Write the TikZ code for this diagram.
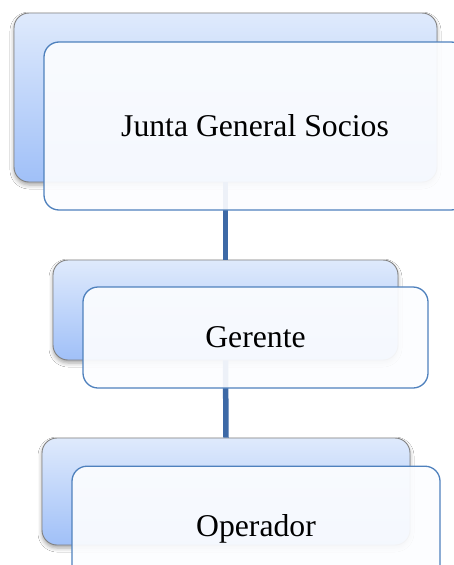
\documentclass[tikz,border=0pt]{standalone}
\usepackage{fontspec}
\setmainfont{Liberation Serif}
\usetikzlibrary{shadows.blur}
\definecolor{backtop}{HTML}{DFEAFC}
\definecolor{backbot}{HTML}{A0C0F8}
\definecolor{backline}{HTML}{808080}
\definecolor{frontline}{HTML}{4F81BD}
\definecolor{frontfill}{HTML}{FCFDFF}
\definecolor{connline}{HTML}{3D69A6}
\tikzset{
  backbox/.style={draw=backline, line width=0.9pt, rounded corners=15pt,
    top color=backtop, bottom color=backbot, inner sep=0pt,
    blur shadow={shadow xshift=0pt, shadow yshift=-3pt, shadow blur radius=4pt, shadow opacity=35}},
  frontbox/.style={draw=frontline, line width=1.3pt, rounded corners=15pt,
    fill=frontfill, fill opacity=0.92, text opacity=1, inner sep=0pt,
    font=\fontsize{31.7}{38}\selectfont, text height=21.5pt, text depth=0.6pt},
  conn/.style={draw=connline, line width=5.5pt}
}
\begin{document}
\begin{tikzpicture}[x=1pt,y=-1pt]
\useasboundingbox (0,0) rectangle (454,565);
\clip (0,0) rectangle (454,565);
\fill[white] (0,0) rectangle (454,565);
% back boxes
\node[backbox, minimum width=423pt, minimum height=169pt] (jb) at (225.5,97.5) {};
\node[backbox, minimum width=345pt, minimum height=100pt] (gb) at (225.5,310) {};
\node[backbox, minimum width=368pt, minimum height=107pt] (ob) at (226,491.5) {};
% connectors
\draw[conn] (jb.south) -- (gb.north);
\draw[conn] (gb.south) -- (ob.north);
% front boxes
\node[frontbox, minimum width=422pt, minimum height=168pt] (jf) at (255,126) {Junta General Socios};
\node[frontbox, minimum width=345pt, minimum height=101pt] (gf) at (255.5,337.5) {Gerente};
\node[frontbox, minimum width=368pt, minimum height=119pt] (of) at (256,525.7) {Operador};
\end{tikzpicture}
\end{document}
